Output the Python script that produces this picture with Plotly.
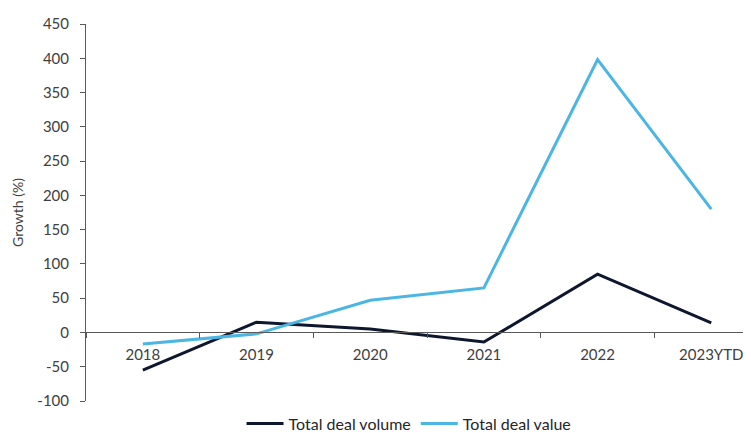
import plotly.graph_objects as go

categories = ["2018", "2019", "2020", "2021", "2022", "2023YTD"]
deal_volume = [-55, 15, 5, -14, 85, 14]
deal_value = [-17, -2, 47, 65, 398, 180]
y_ticks = [-100, -50, 0, 50, 100, 150, 200, 250, 300, 350, 400, 450]
y_tick_labels = [str(v) for v in y_ticks]

font_family = "Lato, 'Open Sans', sans-serif"
text_color = "#404040"

fig = go.Figure()
fig.add_trace(go.Scatter(x=categories, y=deal_volume, mode="lines",
                         name="Total deal volume",
                         line=dict(color="#0f172e", width=3)))
fig.add_trace(go.Scatter(x=categories, y=deal_value, mode="lines",
                         name="Total deal value",
                         line=dict(color="#4bb6e3", width=3)))

fig.update_layout(
    width=751, height=433,
    margin=dict(l=78, r=0, t=16, b=29),
    paper_bgcolor="white", plot_bgcolor="white",
    font=dict(family=font_family, size=15, color=text_color),
    showlegend=True,
    legend=dict(orientation="h", x=0.48, xanchor="center", y=-0.06, yanchor="middle",
                font=dict(size=16, color="#262626"), itemwidth=37,
                bgcolor="rgba(0,0,0,0)"),
    xaxis=dict(type="category", range=[-0.5, 5.42], anchor="free",
               position=100/550, showline=True, linecolor="#595959", linewidth=1,
               ticks="outside", ticklen=5, tickcolor="#595959", tickson="boundaries",
               ticklabelstandoff=9,
               showgrid=False, zeroline=False, tickfont=dict(size=15, color=text_color)),
    yaxis=dict(range=[-100, 450], tickvals=y_ticks, ticktext=y_tick_labels,
               showline=True, linecolor="#595959",
               linewidth=1, ticks="outside", ticklen=5, tickcolor="#595959",
               ticklabelstandoff=8,
               showgrid=False, zeroline=False,
               title=dict(text="Growth (%)", standoff=10, font=dict(size=14, color=text_color)),
               tickfont=dict(size=15, color=text_color)),
)

fig.write_html("out.html")
